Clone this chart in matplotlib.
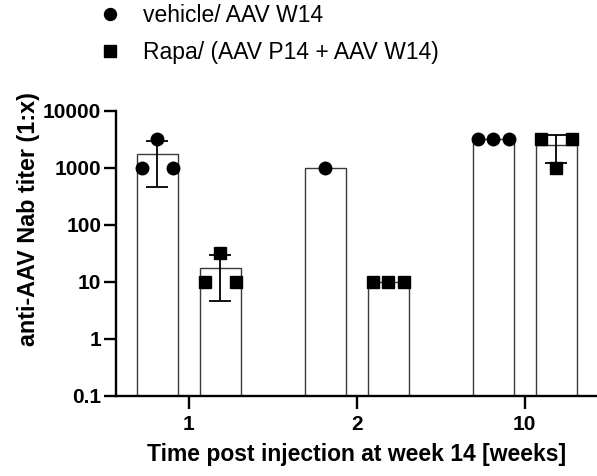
import numpy as np
import matplotlib
matplotlib.use('Agg')
import matplotlib.pyplot as plt
from matplotlib.lines import Line2D

# titers per animal, grouped by time point (1:x)
groups = ['1', '2', '10']
vehicle = [[1000, 3200, 1000], [1000], [3200, 3200, 3200]]
rapa = [[10, 32, 10], [10, 10, 10], [3200, 1000, 3200]]
series_labels = ['vehicle/ AAV W14', 'Rapa/ (AAV P14 + AAV W14)']
yticks = [0.1, 1, 10, 100, 1000, 10000]
ytick_labels = ['0.1', '1', '10', '100', '1000', '10000']

plt.rcParams['font.family'] = ['Liberation Sans', 'DejaVu Sans']

fig = plt.figure(figsize=(5.97, 4.76), dpi=100)
ax = fig.add_axes([0.1951, 0.1681, 0.8049, 0.5993])

x = np.arange(len(groups))
bw = 0.245
off = 0.1875
step = 0.092
ymin = 0.1

def plotGroup(series, marker, dx):
    means = [np.mean(v) for v in series]
    sds = [np.std(v, ddof=1) if len(v) > 1 else 0.0 for v in series]
    ax.bar(x + dx, np.array(means) - ymin, bw, bottom=ymin, color='white',
           edgecolor='#3a3a3a', linewidth=1.0, zorder=1)
    for i, v in enumerate(series):
        n = len(v)
        xs = x[i] + dx + (np.arange(n) - (n - 1) / 2.0) * step
        ax.plot(xs, v, marker, color='black', ms=9, ls='none', zorder=3)
        if sds[i] > 0:
            ax.errorbar(x[i] + dx, means[i], yerr=sds[i], fmt='none', ecolor='black',
                        elinewidth=1.3, capsize=7.8, capthick=1.3, zorder=2)

plotGroup(vehicle, 'o', -off)
plotGroup(rapa, 's', off)

ax.set_yscale('log')
ax.set_ylim(0.1, 10000)
ax.set_xlim(-0.43, 2.43)
ax.set_yticks(yticks)
ax.set_yticklabels(ytick_labels)
ax.yaxis.set_minor_locator(matplotlib.ticker.NullLocator())
ax.set_xticks(x)
ax.set_xticklabels(groups)

for s in ['top', 'right']:
    ax.spines[s].set_visible(False)
for s in ['left', 'bottom']:
    ax.spines[s].set_linewidth(1.7)

ax.tick_params(axis='both', width=1.7, length=9, labelsize=15)
ax.tick_params(axis='x', pad=4.5)
ax.tick_params(axis='y', pad=2)
for lab in ax.get_xticklabels() + ax.get_yticklabels():
    lab.set_fontweight('bold')

ax.set_xlabel('Time post injection at week 14 [weeks]', fontsize=16.5, fontweight='bold', labelpad=7)
ax.set_ylabel('anti-AAV Nab titer (1:x)', fontsize=16.8, fontweight='bold', labelpad=2)
# label sits above the axis middle in the original
ax.yaxis.label.set_y(0.62)

handles = [Line2D([], [], marker='o', color='black', ls='none', ms=8.6),
           Line2D([], [], marker='s', color='black', ls='none', ms=8)]
fig.legend(handles, series_labels, loc='upper left', bbox_to_anchor=(0.165, 0.9916),
           frameon=False, fontsize=16.5, handlelength=1, handletextpad=0.94,
           labelspacing=0.63, borderpad=0, borderaxespad=0)

fig.savefig('out.png', dpi=100)
